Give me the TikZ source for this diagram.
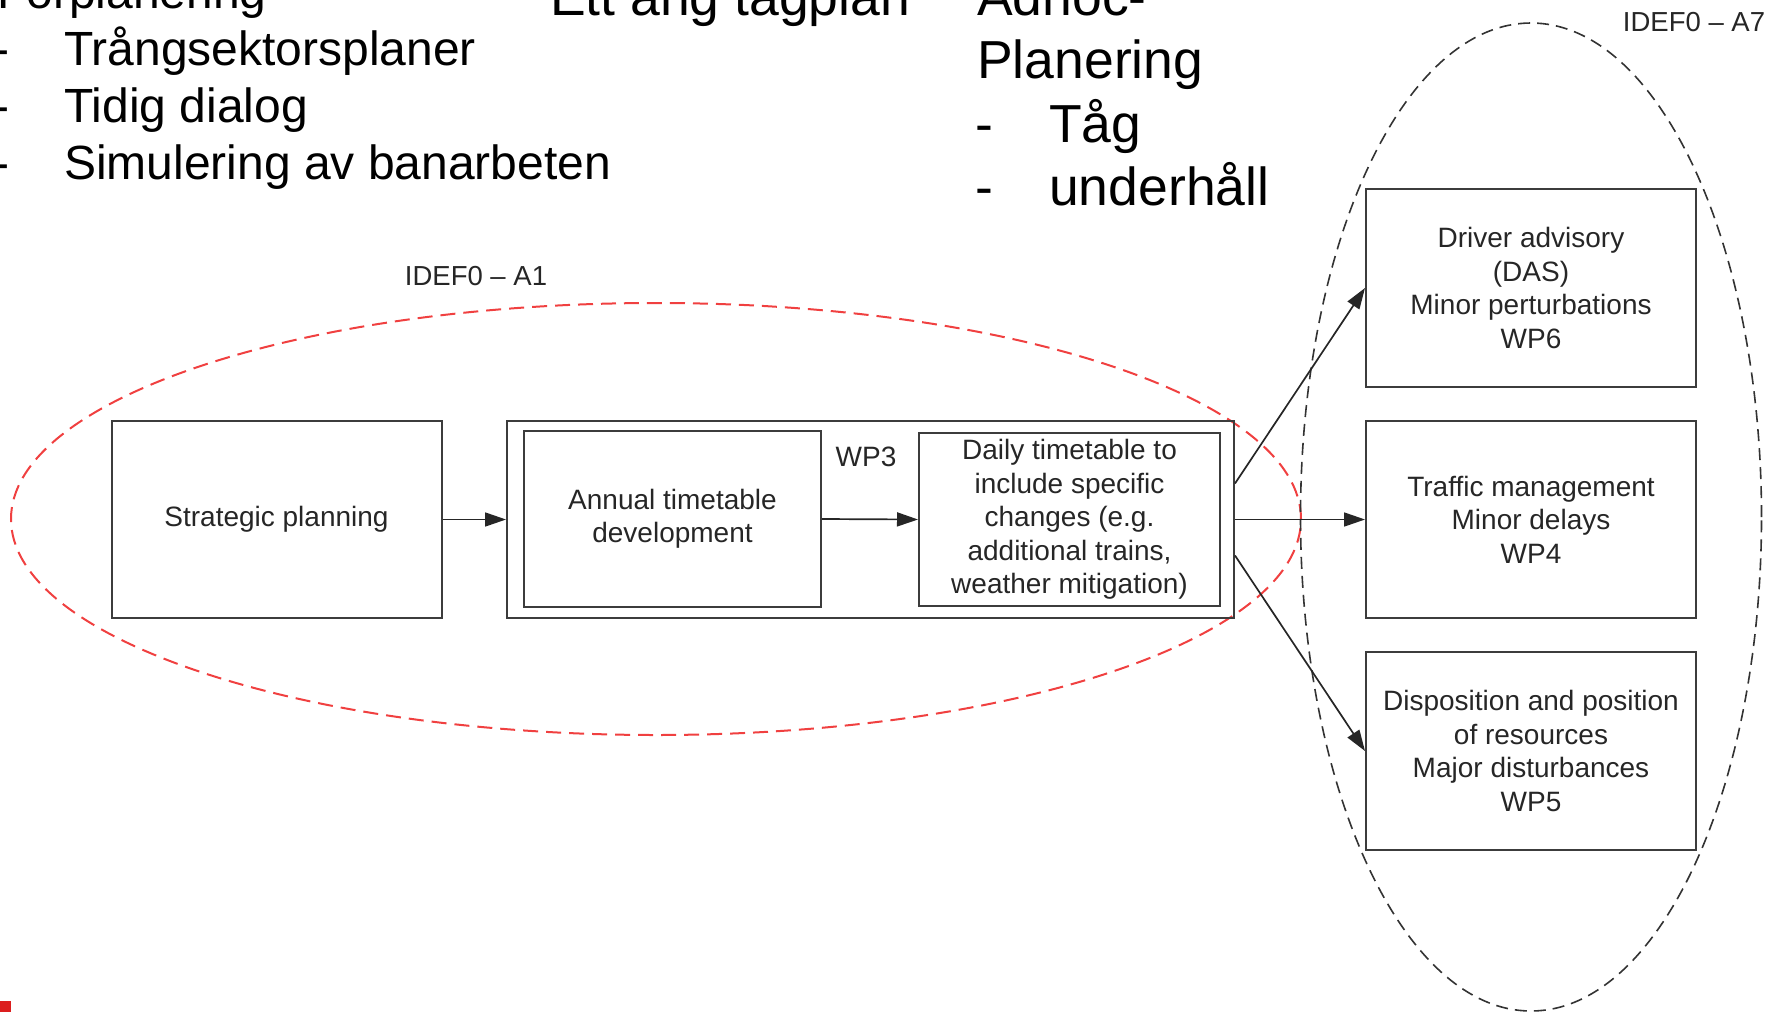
\documentclass[tikz,border=0pt]{standalone}
\usepackage{fontspec}
\setmainfont{Liberation Sans}
\usetikzlibrary{arrows.meta,calc,shapes.geometric}
\definecolor{boxline}{HTML}{3C3C3C}
\definecolor{boxtext}{HTML}{262626}
\definecolor{zonered}{HTML}{F04040}
\definecolor{zonegray}{HTML}{333333}
\definecolor{cornerred}{HTML}{DC1E1E}

\begin{document}
\begin{tikzpicture}[x=1pt,y=-1pt,
  stepbox/.style={draw=boxline,line width=2pt,inner sep=0pt,align=center,
    text=boxtext,font=\fontsize{28}{33.5}\selectfont},
  flow/.style={draw=black!85,line width=1.7pt,-{Triangle[length=21pt,width=14pt]}},
  redzone/.style={ellipse,draw=zonered,line width=2pt,dash pattern=on 15pt off 8pt,inner sep=0pt},
  grayzone/.style={ellipse,draw=zonegray,line width=1.6pt,dash pattern=on 12pt off 7pt,inner sep=0pt},
  zonelabel/.style={anchor=base,inner sep=0pt,text=boxtext,font=\fontsize{27.5}{33}\selectfont},
  notesmall/.style={anchor=base west,inner sep=0pt,font=\fontsize{48}{57}\selectfont},
  notelarge/.style={anchor=base west,inner sep=0pt,font=\fontsize{53.5}{64}\selectfont}
]
\useasboundingbox (0,0) rectangle (1779,1012);
\clip (0,0) rectangle (1779,1012);

% planning notes along the top edge
\node[notesmall] (pre)   at (-3,8)    {Förplanering};
\node[notesmall] (d1)    at (-7,65)   {-};
\node[notesmall] (d2)    at (-7,122)  {-};
\node[notesmall] (d3)    at (-7,179)  {-};
\node[notesmall] (it1)   at (64,65)   {Trångsektorsplaner};
\node[notesmall] (it2)   at (64,122)  {Tidig dialog};
\node[notesmall] (it3)   at (64,179)  {Simulering av banarbeten};

\node[notelarge] (year)  at (550,15)  {Ett årig tågplan};

\node[notelarge] (adh)   at (977,15)  {Adhoc-};
\node[notelarge] (plan)  at (977,78)  {Planering};
\node[notelarge] (d4)    at (975,142) {-};
\node[notelarge] (d5)    at (975,205) {-};
\node[notelarge] (tag)   at (1049,142) {Tåg};
\node[notelarge] (maint) at (1049,205) {underhåll};

% dashed zones
\node[redzone,minimum width=1290pt,minimum height=432pt] (zoneA1) at (656,519) {};
\node[grayzone,minimum width=461pt,minimum height=988pt] (zoneA7) at (1531,517) {};
\node[zonelabel] (labA1) at (476,285) {IDEF0 – A1};
\node[zonelabel] (labA7) at (1694,31) {IDEF0 – A7};

% activity boxes
\node[stepbox,minimum width=330pt,minimum height=197pt] (strat) at (276.5,519.5) {Strategic planning};
\node[stepbox,minimum width=727pt,minimum height=197pt] (outer) at (870.5,519.5) {};
\node[stepbox,minimum width=297pt,minimum height=176pt] (annual) at (672.5,519) {Annual timetable\\development};
\node[stepbox,minimum width=301pt,minimum height=173pt] (daily) at (1069.5,519.5)
  {Daily timetable to\\include specific\\changes (e.g.\\additional trains,\\weather mitigation)};
\node[anchor=center,inner sep=0pt,text=boxtext,font=\fontsize{28}{33.5}\selectfont] (wp3) at (866,457) {WP3};

\node[stepbox,minimum width=330pt,minimum height=198pt] (das) at (1531,288)
  {Driver advisory\\(DAS)\\Minor perturbations\\WP6};
\node[stepbox,minimum width=330pt,minimum height=197pt] (tm) at (1531,519.5)
  {Traffic management\\Minor delays\\WP4};
\node[stepbox,minimum width=330pt,minimum height=198pt] (disp) at (1531,751)
  {Disposition and position\\of resources\\Major disturbances\\WP5};

% connectors
\coordinate (outUp)   at ($(outer.east)+(0,-36)$);
\coordinate (outDown) at ($(outer.east)+(0,36)$);
\draw[flow] (strat.east) -- (outer.west);
\draw[flow] (annual.east) -- (daily.west);
\draw[flow] (outUp) -- (das.west);
\draw[flow] (outer.east) -- (tm.west);
\draw[flow] (outDown) -- (disp.west);

% corner mark
\fill[cornerred] (0,1001) rectangle (11,1012);
\end{tikzpicture}
\end{document}
